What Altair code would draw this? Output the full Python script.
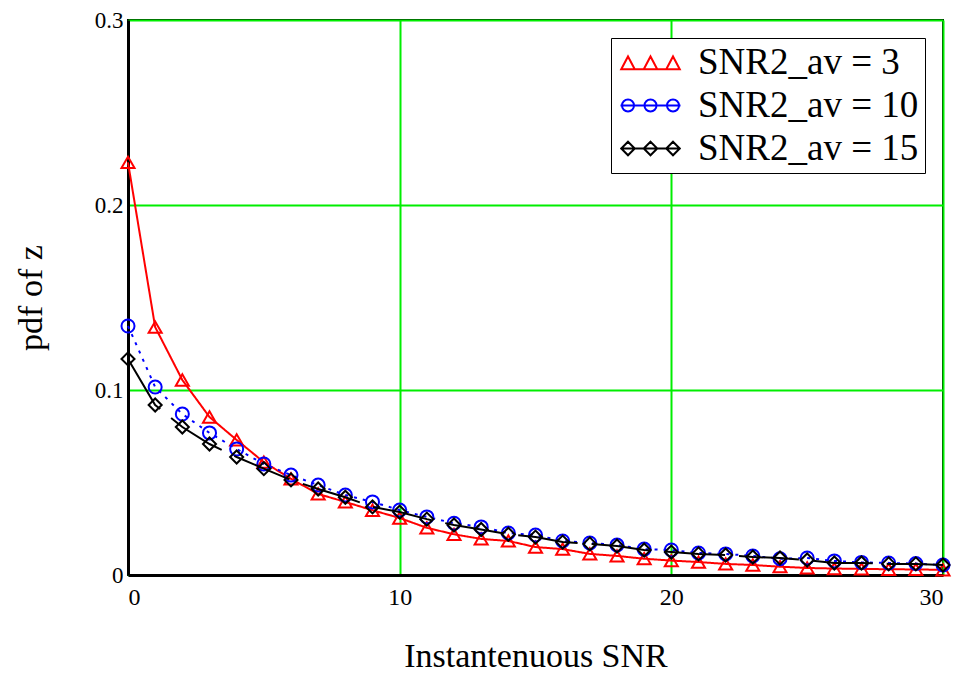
import altair as alt
import pandas as pd

snr = list(range(0, 31))
series_names = ["SNR2_av = 3", "SNR2_av = 10", "SNR2_av = 15"]

pdf_av3 = [0.223, 0.134, 0.1054, 0.0854, 0.073, 0.061, 0.052, 0.0438, 0.0395, 0.035,
           0.0308, 0.0255, 0.022, 0.0195, 0.0184, 0.0151, 0.014, 0.0114, 0.0103, 0.0088,
           0.0078, 0.007, 0.006, 0.0054, 0.0045, 0.0038, 0.0035, 0.0033, 0.0031, 0.003, 0.0028]
pdf_av10 = [0.1346, 0.1016, 0.087, 0.0768, 0.0681, 0.060, 0.054, 0.0486, 0.0432, 0.0395,
            0.0351, 0.0314, 0.028, 0.026, 0.0227, 0.0216, 0.0184, 0.0173, 0.0162, 0.014,
            0.0135, 0.0119, 0.0114, 0.0103, 0.0088, 0.0092, 0.0076, 0.0068, 0.0065, 0.0062, 0.0054]
pdf_av15 = [0.1168, 0.0919, 0.080, 0.0708, 0.0638, 0.0575, 0.0514, 0.0465, 0.042, 0.0368,
            0.034, 0.0302, 0.027, 0.0246, 0.022, 0.0205, 0.0178, 0.0168, 0.0157, 0.0135,
            0.0124, 0.0114, 0.0108, 0.0097, 0.0092, 0.0081, 0.0065, 0.0065, 0.006, 0.006, 0.0054]

x_ticks = [0, 10, 20, 30]
y_ticks = [0, 0.1, 0.2, 0.3]

colors = ["#ff0000", "#0000ff", "#000000"]
shapes = ["triangle-up", "circle", "diamond"]
dashes = [[1, 0], [3, 6], [60, 14]]

rows = []
for name, vals in zip(series_names, [pdf_av3, pdf_av10, pdf_av15]):
    for xv, yv in zip(snr, vals):
        rows.append({"snr": xv, "pdf": yv, "series": name})
df = pd.DataFrame(rows)

SERIF = "Liberation Serif"

xenc = alt.X("snr:Q", scale=alt.Scale(domain=[0, 30], nice=False),
             axis=alt.Axis(values=x_ticks, title="Instantenuous SNR", labelFontSize=24))
yenc = alt.Y("pdf:Q", scale=alt.Scale(domain=[0, 0.3], nice=False),
             axis=alt.Axis(values=y_ticks, format="~g", title="pdf of z", labelFontSize=23))

layers = []
for name, c, sh, d in zip(series_names, colors, shapes, dashes):
    base = alt.Chart(df).transform_filter(alt.datum.series == name)
    layers.append(base.mark_line(color=c, strokeWidth=2, strokeDash=d).encode(x=xenc, y=yenc))
    layers.append(base.mark_point(shape=sh, color=c, filled=False, size=170, strokeWidth=2,
                                  opacity=1).encode(x=xenc, y=yenc))

# legend symbols: a short line with three markers (custom paths, unit = 15 px)
def tri(cx):
    return f"M{cx-0.45},0.45L{cx},-0.4L{cx+0.45},0.45Z"

def circ(cx):
    r = 0.4
    return f"M{cx+r},0A{r},{r} 0 1,1 {cx-r},0A{r},{r} 0 1,1 {cx+r},0Z"

def dia(cx):
    h = 0.45
    return f"M{cx},{-h}L{cx+h},0L{cx},{h}L{cx-h},0Z"

centers = [-0.5, 1.0, 2.5]
path_tri = "M-1,0.45L3,0.45" + "".join(tri(c) for c in centers)
path_circ = "M-1,0L3,0" + "".join(circ(c) for c in centers)
path_dia = "M-1,0L3,0" + "".join(dia(c) for c in centers)

legend_df = pd.DataFrame({"label": series_names})
legend_layer = alt.Chart(legend_df).transform_filter("false").mark_point(
    filled=False, strokeWidth=2, opacity=1
).encode(
    color=alt.Color("label:N", scale=alt.Scale(domain=series_names, range=colors),
                    legend=alt.Legend(title=None)),
    shape=alt.Shape("label:N", scale=alt.Scale(domain=series_names,
                                               range=[path_tri, path_circ, path_dia]),
                    legend=alt.Legend(title=None)),
)

chart = alt.layer(*layers, legend_layer).properties(
    width=815, height=555,
    autosize=alt.AutoSizeParams(type="none"),
    padding={"left": 120, "top": 12, "right": 15, "bottom": 100},
).configure_view(
    stroke="#000000", strokeWidth=2
).configure_axis(
    grid=True, gridColor="#00ee00", gridWidth=2, gridOpacity=1,
    domainColor="#000000", domainWidth=3,
    ticks=False, labelFont=SERIF, labelColor="#000000",
    titleFont=SERIF, titleFontSize=34, titleFontWeight="normal", titleColor="#000000",
).configure_axisX(
    labelPadding=10, titlePadding=30,
).configure_axisY(
    labelPadding=5, titlePadding=46,
).configure_legend(
    orient="top-right", offset=18, padding=6, strokeColor="#000000",
    fillColor="#ffffff", labelFont=SERIF, labelFontSize=37, labelColor="#000000",
    symbolSize=900, symbolStrokeWidth=2, labelOffset=44, rowPadding=5,
    symbolFillColor="transparent", labelLimit=600, symbolOpacity=1,
)

chart.save("out.html", embed_options={"renderer": "svg", "actions": False})
